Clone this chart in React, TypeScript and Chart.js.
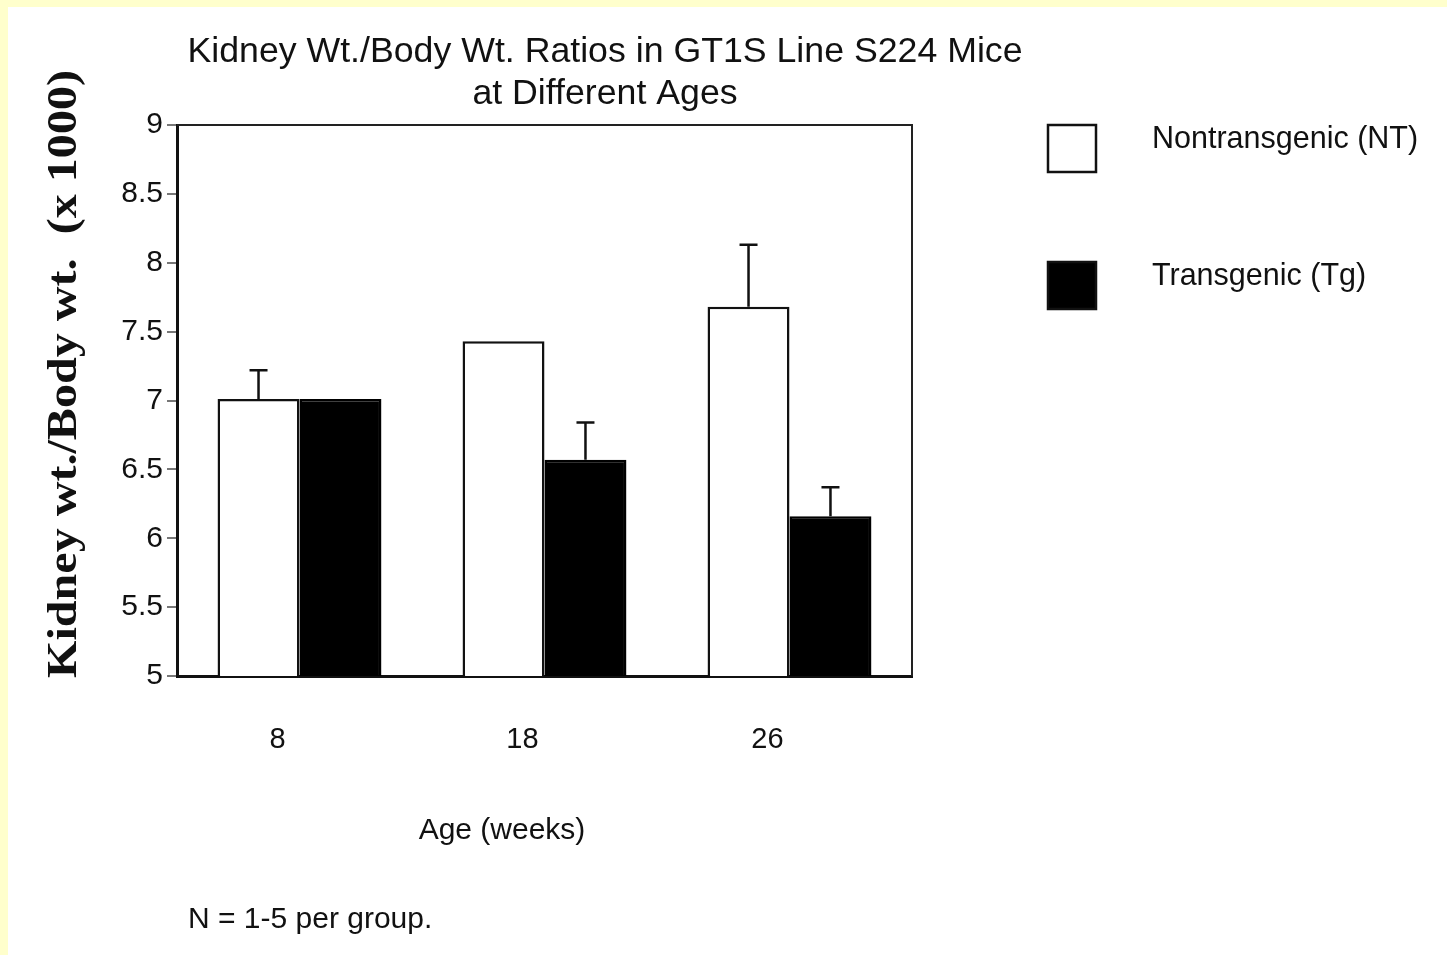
import React, { useEffect, useRef } from "react";
import { Chart, registerables } from "chart.js";

Chart.register(...registerables);

// Age groups (weeks) and kidney/body weight ratios (x 1000)
const ages: string[] = ["8", "18", "26"];
const ntValues: number[] = [7.01, 7.43, 7.68];
const ntErrors: number[] = [0.21, 0, 0.45];
const tgValues: number[] = [7.01, 6.57, 6.16];
const tgErrors: number[] = [0, 0.27, 0.21];
const yTicks: number[] = [5, 5.5, 6, 6.5, 7, 7.5, 8, 8.5, 9];

const titleLines: string[] = [
  "Kidney Wt./Body Wt. Ratios in GT1S Line S224 Mice",
  "at Different Ages",
];
const yTitle = "Kidney wt./Body wt.  (x 1000)";
const xTitle = "Age (weeks)";
const footnote = "N = 1-5 per group.";

const SANS = '"Liberation Sans", Arial, Helvetica, sans-serif';
const SERIF = '"Liberation Serif", "Times New Roman", serif';
const INK = "#111";

// Upward-only error bars over each bar
const errorBarPlugin = {
  id: "errorBars",
  afterDatasetsDraw(chart: any) {
    const { ctx, scales } = chart;
    chart.data.datasets.forEach((ds: any, di: number) => {
      const meta = chart.getDatasetMeta(di);
      const errs: number[] = ds.errors || [];
      meta.data.forEach((bar: any, i: number) => {
        const e = errs[i];
        if (!e) return;
        const v = ds.data[i];
        const yTop = scales.y.getPixelForValue(v + e);
        const yBase = scales.y.getPixelForValue(v);
        ctx.save();
        ctx.strokeStyle = INK;
        ctx.lineWidth = 2.5;
        ctx.beginPath();
        ctx.moveTo(bar.x, yBase);
        ctx.lineTo(bar.x, yTop);
        ctx.moveTo(bar.x - 9, yTop);
        ctx.lineTo(bar.x + 9, yTop);
        ctx.stroke();
        ctx.restore();
      });
    });
  },
};

// Top and right edges of the plot frame
const framePlugin = {
  id: "frame",
  afterDraw(chart: any) {
    const { ctx, chartArea: a } = chart;
    ctx.save();
    ctx.strokeStyle = "#222";
    ctx.lineWidth = 2;
    ctx.beginPath();
    ctx.moveTo(a.left, a.top);
    ctx.lineTo(a.right, a.top);
    ctx.lineTo(a.right, a.bottom);
    ctx.stroke();
    ctx.restore();
  },
};

// Titles, legend and footnote
const textPlugin = {
  id: "texts",
  afterDraw(chart: any) {
    const { ctx, chartArea: a } = chart;
    ctx.save();
    ctx.fillStyle = INK;
    ctx.textBaseline = "middle";

    // main title
    ctx.textAlign = "center";
    ctx.font = `35.7px ${SANS}`;
    const tx = a.left + 428;
    ctx.fillText(titleLines[0], tx, 45);
    ctx.fillText(titleLines[1], tx, 87);

    // axis titles
    ctx.font = `30px ${SANS}`;
    ctx.fillText(xTitle, a.left + 325, 824);

    ctx.save();
    ctx.translate(57, 367);
    ctx.rotate(-Math.PI / 2);
    ctx.font = `bold 43px ${SERIF}`;
    const w = ctx.measureText(yTitle).width;
    ctx.scale(608 / w, 1);
    ctx.fillText(yTitle, 0, 0);
    ctx.restore();

    // footnote
    ctx.textAlign = "left";
    ctx.font = `30px ${SANS}`;
    ctx.fillText(footnote, 180, 913);

    // legend
    const boxX = 1040;
    const boxYs = [118, 255];
    chart.data.datasets.forEach((ds: any, i: number) => {
      const by = boxYs[i];
      ctx.fillStyle = ds.backgroundColor;
      ctx.fillRect(boxX, by, 48, 47);
      ctx.strokeStyle = INK;
      ctx.lineWidth = 2.5;
      ctx.strokeRect(boxX, by, 48, 47);
      ctx.fillStyle = INK;
      ctx.font = `30.5px ${SANS}`;
      ctx.textAlign = "left";
      ctx.fillText(ds.label, boxX + 104, by + 15);
    });
    ctx.restore();
  },
};

export default function App() {
  const canvasRef = useRef<HTMLCanvasElement | null>(null);

  useEffect(() => {
    if (!canvasRef.current) return;
    const chart = new Chart(canvasRef.current, {
      type: "bar",
      data: {
        labels: ages,
        datasets: [
          {
            label: "Nontransgenic (NT)",
            data: ntValues,
            errors: ntErrors,
            backgroundColor: "#ffffff",
            borderColor: INK,
            borderWidth: 2.5,
          } as any,
          {
            label: "Transgenic (Tg)",
            data: tgValues,
            errors: tgErrors,
            backgroundColor: "#000000",
            borderColor: "#000000",
            borderWidth: 2.5,
          } as any,
        ],
      },
      options: {
        responsive: false,
        animation: false,
        layout: { padding: { top: 118, right: 535, left: 0, bottom: 0 } },
        datasets: {
          bar: { categoryPercentage: 0.669, barPercentage: 1.0 },
        },
        plugins: {
          legend: { display: false },
          title: { display: false },
          tooltip: { enabled: false },
        },
        scales: {
          x: {
            grid: { display: false, drawTicks: false },
            border: { display: true, color: INK, width: 3 },
            ticks: {
              color: INK,
              font: { family: SANS, size: 29 },
              padding: 47,
              labelOffset: -22,
            },
            afterFit(scale: any) {
              scale.height = 279;
            },
          },
          y: {
            min: 5,
            max: 9,
            afterBuildTicks(scale: any) {
              scale.ticks = yTicks.map((v) => ({ value: v }));
            },
            grid: {
              display: true,
              drawOnChartArea: false,
              drawTicks: true,
              tickLength: 10,
              color: "#777",
              lineWidth: 2,
            },
            border: { display: true, color: INK, width: 3 },
            ticks: {
              color: INK,
              font: { family: SANS, size: 30 },
              padding: 4,
              callback: (v: any) => String(v),
            },
            afterFit(scale: any) {
              scale.width = 169;
            },
          },
        },
      },
      plugins: [errorBarPlugin, framePlugin, textPlugin],
    });
    return () => chart.destroy();
  }, []);

  return (
    <div style={{ position: "fixed", inset: 0, background: "#ffffcc" }}>
      <div
        style={{
          position: "fixed",
          left: 8,
          top: 7,
          right: 0,
          bottom: 0,
          background: "#ffffff",
        }}
      >
        <canvas ref={canvasRef} width={1439} height={948} />
      </div>
    </div>
  );
}
